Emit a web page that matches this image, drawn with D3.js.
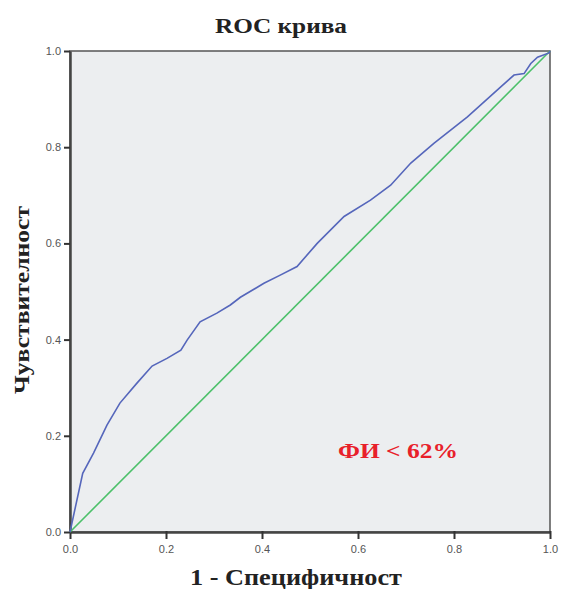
<!DOCTYPE html>
<html><head><meta charset="utf-8">
<script src="https://cdn.jsdelivr.net/npm/d3@7"></script>
<style>body{margin:0;background:#fff}</style>
</head><body>
<svg id="c" width="561" height="589"></svg>
<script>
const fpr = [0, 0.0265, 0.049, 0.077, 0.104, 0.139, 0.171, 0.202, 0.231, 0.244, 0.271, 0.306, 0.334, 0.355, 0.404, 0.438, 0.473, 0.515, 0.571, 0.626, 0.668, 0.710, 0.758, 0.828, 0.898, 0.925, 0.946, 0.960, 0.974, 0.998, 1];
const tpr = [0, 0.122, 0.164, 0.222, 0.268, 0.309, 0.345, 0.361, 0.378, 0.399, 0.437, 0.455, 0.472, 0.488, 0.517, 0.534, 0.552, 0.600, 0.656, 0.690, 0.721, 0.767, 0.808, 0.863, 0.926, 0.950, 0.953, 0.974, 0.987, 0.996, 1];
const refLine = [0, 1];
const ticks = [0, 0.2, 0.4, 0.6, 0.8, 1.0];
const title = "ROC крива";
const xLabel = "1 - Специфичност";
const yLabel = "Чувствителност";
const note = "ФИ < 62%";

const svg = d3.select("#c");
const L = 70, R = 550, T = 51, B = 532;
const x = d3.scaleLinear().domain([0, 1]).range([L, R]);
const y = d3.scaleLinear().domain([0, 1]).range([B, T]);

svg.append("rect").attr("x", L).attr("y", T).attr("width", R - L).attr("height", B - T)
  .attr("fill", "#eceef0").attr("stroke", "#555").attr("stroke-width", 1.5);

const xa = svg.append("g").attr("transform", `translate(0,${B})`)
  .call(d3.axisBottom(x).tickValues(ticks).tickFormat(d3.format(".1f")).tickSize(6).tickSizeOuter(0));
const ya = svg.append("g").attr("transform", `translate(${L},0)`)
  .call(d3.axisLeft(y).tickValues(ticks).tickFormat(d3.format(".1f")).tickSize(6).tickSizeOuter(0));
[xa, ya].forEach(a => {
  a.select(".domain").attr("stroke", "#444").attr("stroke-width", 2.5);
  a.selectAll(".tick line").attr("stroke", "#333").attr("stroke-width", 2);
  a.selectAll(".tick text").attr("fill", "#555").style("font-family", "Arial, 'Liberation Sans', sans-serif").style("font-size", "11px");
});
xa.selectAll(".tick line").attr("y1", -1).attr("y2", 7);
xa.selectAll(".tick text").attr("dy", "1.05em");
ya.selectAll(".tick text").attr("x", -9);

svg.append("line")
  .attr("x1", x(refLine[0])).attr("y1", y(refLine[0]))
  .attr("x2", x(refLine[1])).attr("y2", y(refLine[1]))
  .attr("stroke", "#4cc06a").attr("stroke-width", 1.6);

const pts = fpr.map((d, i) => [d, tpr[i]]);
svg.append("path").datum(pts)
  .attr("d", d3.line().x(d => x(d[0])).y(d => y(d[1])))
  .attr("fill", "none").attr("stroke", "#5566bb").attr("stroke-width", 1.6);

const serif = "'Liberation Serif', 'Times New Roman', serif";
function label(txt, xx, yy, size, len, color, anchor) {
  return svg.append("text").attr("x", xx).attr("y", yy).attr("text-anchor", anchor || "start")
    .attr("textLength", len).attr("lengthAdjust", "spacingAndGlyphs")
    .style("font-family", serif).style("font-weight", "bold").style("font-size", size + "px")
    .attr("fill", color).text(txt);
}
label(title, 215, 33, 22, 132, "#222");
label(xLabel, 190, 585, 23, 212, "#222");
label(yLabel, 0, 0, 22, 188, "#222", "middle").attr("transform", "translate(29,300) rotate(-90)");
label(note, 338, 458, 21, 120, "#e8202a");
</script>
</body></html>
